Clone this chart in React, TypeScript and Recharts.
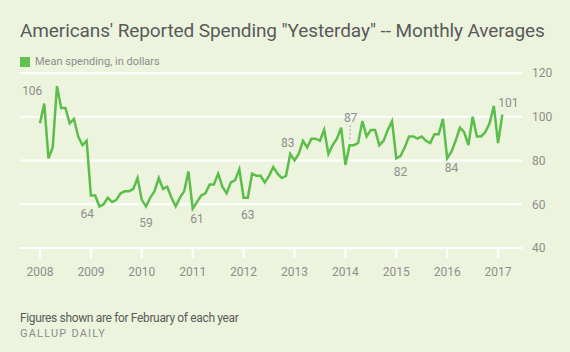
import {
  LineChart,
  Line,
  XAxis,
  YAxis,
  CartesianGrid,
  LabelList,
} from "recharts";

// Monthly averages, Jan..Dec (2017 only Jan-Feb)
const spend2008 = [97, 106, 81, 86, 114, 104, 104, 97, 99, 91, 87, 89];
const spend2009 = [64, 64, 59, 60, 63, 61, 62, 65, 66, 66, 67, 72];
const spend2010 = [62, 59, 63, 66, 72, 67, 68, 63, 59, 63, 66, 75];
const spend2011 = [58, 61, 64, 65, 69, 69, 74, 68, 65, 70, 71, 76];
const spend2012 = [63, 63, 74, 73, 73, 70, 73, 77, 74, 72, 73, 83];
const spend2013 = [80, 83, 89, 86, 90, 90, 89, 94, 83, 87, 90, 95];
const spend2014 = [78, 87, 87, 88, 98, 91, 94, 94, 87, 89, 94, 98];
const spend2015 = [81, 82, 86, 91, 91, 90, 91, 89, 88, 92, 92, 99];
const spend2016 = [81, 84, 89, 95, 93, 87, 100, 91, 91, 93, 97, 105];
const spend2017 = [88, 101];

const years = [2008, 2009, 2010, 2011, 2012, 2013, 2014, 2015, 2016, 2017];
const yTicks = [40, 60, 80, 100, 120];

const byYear = [
  spend2008, spend2009, spend2010, spend2011, spend2012,
  spend2013, spend2014, spend2015, spend2016, spend2017,
];

// February values get a label
const data = byYear.flatMap((vals, yi) =>
  vals.map((v, m) => ({
    t: years[yi] + m / 12,
    spending: v,
    feb: m === 1 ? v : null,
  }))
);

const GREEN = "#5bbd4a";
const GRAY = "#8d8d8d";
const FONT = "Roboto, sans-serif";

// where each February label sits relative to its point
const labelPos: Record<number, [number, number]> = {
  2008: [-12, -13],
  2009: [-8, 18],
  2010: [0, 17],
  2011: [0, 17],
  2012: [0, 17],
  2013: [-11, -11],
  2014: [1, -27],
  2015: [0, 16],
  2016: [0, 16],
  2017: [6, -12],
};

const FebLabel = (props: any) => {
  const { x, y, value, index } = props;
  if (value == null) return null;
  const year = years[Math.floor(index / 12)];
  const [dx, dy] = labelPos[year] || [0, -12];
  return (
    <g>
      {year === 2014 && (
        <line
          x1={x + 1}
          y1={y - 20}
          x2={x}
          y2={y - 4}
          stroke="#aaa"
          strokeDasharray="2 2"
        />
      )}
      <text
        x={x + dx}
        y={y + dy}
        textAnchor="middle"
        dominantBaseline="central"
        fill={GRAY}
        fontSize={12}
        fontFamily={FONT}
      >
        {value}
      </text>
    </g>
  );
};

export default function App() {
  return (
    <div
      style={{
        position: "absolute",
        left: 0,
        top: 0,
        width: 570,
        height: 352,
        background: "#edf4de",
        fontFamily: FONT,
        overflow: "hidden",
      }}
    >
      <div
        style={{
          position: "absolute",
          left: 20,
          top: 19,
          fontSize: 19,
          letterSpacing: -0.1,
          color: "#5a5a5a",
          whiteSpace: "nowrap",
        }}
      >
        Americans' Reported Spending "Yesterday" -- Monthly Averages
      </div>
      <div
        style={{
          position: "absolute",
          left: 20,
          top: 55,
          display: "flex",
          alignItems: "center",
          fontSize: 11,
          color: GRAY,
        }}
      >
        <span
          style={{
            width: 10,
            height: 10,
            background: "#62c250",
            marginRight: 5,
            display: "inline-block",
          }}
        />
        Mean spending, in dollars
      </div>

      <LineChart
        width={570}
        height={352}
        data={data}
        margin={{ top: 73, right: 0, left: 20, bottom: 74 }}
      >
        <CartesianGrid
          vertical={false}
          stroke="#ffffff"
          strokeWidth={2}
        />
        <XAxis
          dataKey="t"
          type="number"
          domain={[2007.607, 2017.47]}
          ticks={years}
          axisLine={false}
          tickLine={{ stroke: "#ffffff", strokeWidth: 2 }}
          tickSize={10}
          tickMargin={9}
          height={30}
          tick={{ fill: GRAY, fontSize: 12, fontFamily: FONT }}
        />
        <YAxis
          orientation="right"
          domain={[40, 120]}
          ticks={yTicks}
          axisLine={false}
          tickLine={false}
          tickSize={8}
          tickMargin={2}
          width={48}
          tick={{ fill: GRAY, fontSize: 12, fontFamily: FONT, textAnchor: "start" }}
        />
        <Line
          type="linear"
          dataKey="spending"
          stroke={GREEN}
          strokeWidth={2.5}
          dot={false}
          isAnimationActive={false}
        >
          <LabelList dataKey="feb" content={<FebLabel />} />
        </Line>
      </LineChart>

      <div
        style={{
          position: "absolute",
          left: 20,
          top: 311,
          fontSize: 12,
          letterSpacing: -0.35,
          color: "#5a5a5a",
          whiteSpace: "nowrap",
        }}
      >
        Figures shown are for February of each year
      </div>
      <div
        style={{
          position: "absolute",
          left: 20,
          top: 327,
          fontSize: 11,
          color: GRAY,
          letterSpacing: 1.2,
        }}
      >
        GALLUP DAILY
      </div>
    </div>
  );
}
